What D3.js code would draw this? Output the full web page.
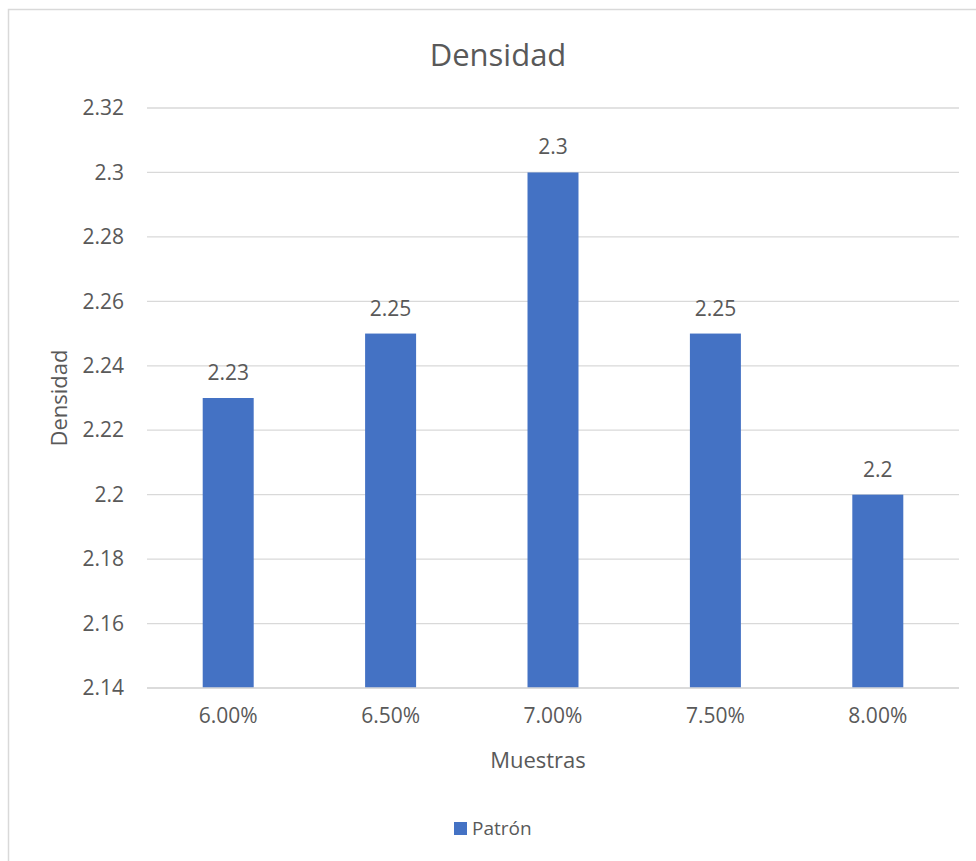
<!DOCTYPE html>
<html>
<head>
<meta charset="utf-8">
<script src="https://cdn.jsdelivr.net/npm/d3@7"></script>
<style>
  html, body { margin: 0; padding: 0; background: #fff; }
  svg text { font-family: "Open Sans", "Noto Sans", sans-serif; fill: #595959; }
</style>
</head>
<body>
<svg id="chart" width="976" height="861"></svg>
<script>
// Muestras (porcentaje) y densidad medida
const categories = ["6.00%", "6.50%", "7.00%", "7.50%", "8.00%"];
const values = [2.23, 2.25, 2.3, 2.25, 2.2];
const valueLabels = ["2.23", "2.25", "2.3", "2.25", "2.2"];
const yTicks = [2.14, 2.16, 2.18, 2.2, 2.22, 2.24, 2.26, 2.28, 2.3, 2.32];
const seriesName = "Patrón";

const svg = d3.select("#chart");
const W = 976, H = 861;
const barColor = "#4472C4";
const gridColor = "#D9D9D9";

// outer chart border
svg.append("rect")
  .attr("x", 8.5).attr("y", 9.5)
  .attr("width", W).attr("height", H)
  .attr("fill", "none").attr("stroke", "#D9D9D9").attr("stroke-width", 1.5);

const plot = { left: 147, right: 959, top: 108, bottom: 688 };

const x = d3.scaleBand()
  .domain(categories)
  .range([plot.left, plot.right])
  .paddingInner(0.686)
  .paddingOuter(0.343);

const y = d3.scaleLinear()
  .domain([2.14, 2.32])
  .range([plot.bottom, plot.top]);

// horizontal gridlines
svg.append("g")
  .selectAll("line")
  .data(yTicks)
  .join("line")
  .attr("x1", plot.left).attr("x2", plot.right)
  .attr("y1", d => y(d)).attr("y2", d => y(d))
  .attr("stroke", gridColor).attr("stroke-width", 1.3);

// y axis labels
const yAxis = d3.axisLeft(y).tickValues(yTicks).tickSize(0).tickPadding(0)
  .tickFormat(d => d3.format("")(+d.toFixed(2)));
const gy = svg.append("g").attr("transform", `translate(124,0)`).call(yAxis);
gy.select(".domain").remove();
gy.selectAll("text").attr("font-size", 21).attr("fill", "#595959")
  .style("font-family", '"Open Sans", sans-serif');

// bars
svg.append("g")
  .selectAll("rect")
  .data(values)
  .join("rect")
  .attr("x", (d, i) => x(categories[i]))
  .attr("y", d => y(d))
  .attr("width", x.bandwidth())
  .attr("height", d => y(2.14) - y(d))
  .attr("fill", barColor);

// value labels
svg.append("g")
  .selectAll("text")
  .data(values)
  .join("text")
  .attr("x", (d, i) => x(categories[i]) + x.bandwidth() / 2)
  .attr("y", d => y(d) - 18)
  .attr("text-anchor", "middle")
  .attr("font-size", 21)
  .text((d, i) => valueLabels[i]);

// x axis line and labels
svg.append("line")
  .attr("x1", plot.left).attr("x2", plot.right)
  .attr("y1", plot.bottom).attr("y2", plot.bottom)
  .attr("stroke", gridColor).attr("stroke-width", 1.3);

const xAxis = d3.axisBottom(x).tickSize(0).tickPadding(0);
const gx = svg.append("g").attr("transform", `translate(0,${plot.bottom + 20})`).call(xAxis);
gx.select(".domain").remove();
gx.selectAll("text").attr("font-size", 21).attr("fill", "#595959")
  .attr("dy", "0.71em")
  .style("font-family", '"Open Sans", sans-serif');

// title
svg.append("text")
  .attr("x", 498).attr("y", 66)
  .attr("text-anchor", "middle")
  .attr("font-size", 31)
  .text("Densidad");

// axis titles
svg.append("text")
  .attr("x", 538).attr("y", 768)
  .attr("text-anchor", "middle")
  .attr("font-size", 22)
  .text("Muestras");

svg.append("text")
  .attr("transform", `translate(67,398) rotate(-90)`)
  .attr("text-anchor", "middle")
  .attr("font-size", 22)
  .text("Densidad");

// legend
const lg = svg.append("g").attr("transform", "translate(454,822)");
lg.append("rect").attr("width", 13).attr("height", 13).attr("fill", barColor);
lg.append("text").attr("x", 18).attr("y", 13).attr("font-size", 19).text(seriesName);
</script>
</body>
</html>
